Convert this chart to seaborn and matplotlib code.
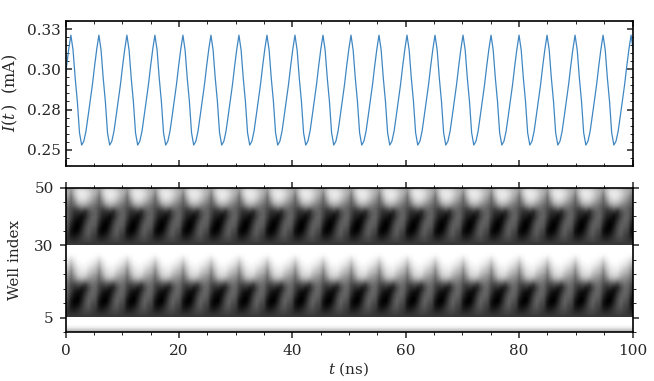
import matplotlib
matplotlib.use('Agg')
import matplotlib.pyplot as plt
from matplotlib.ticker import FixedLocator, MultipleLocator
import numpy as np
import pandas as pd
import seaborn as sns

# current trace, sampled every 0.38 ns, one row per oscillation
current_start = [0.2905, 0.3020, 0.3125]
current_rows = [
    [0.3212, 0.3120, 0.2945, 0.2800, 0.2605, 0.2529, 0.2553, 0.2615, 0.2710, 0.2810, 0.2905, 0.3020, 0.3125],
    [0.3212, 0.3120, 0.2945, 0.2800, 0.2605, 0.2529, 0.2553, 0.2615, 0.2710, 0.2810, 0.2905, 0.3020, 0.3125],
    [0.3212, 0.3120, 0.2945, 0.2800, 0.2605, 0.2529, 0.2553, 0.2615, 0.2710, 0.2810, 0.2905, 0.3020, 0.3125],
    [0.3212, 0.3120, 0.2945, 0.2800, 0.2605, 0.2529, 0.2553, 0.2615, 0.2710, 0.2810, 0.2905, 0.3020, 0.3125],
    [0.3212, 0.3120, 0.2945, 0.2800, 0.2605, 0.2529, 0.2553, 0.2615, 0.2710, 0.2810, 0.2905, 0.3020, 0.3125],
    [0.3212, 0.3120, 0.2945, 0.2800, 0.2605, 0.2529, 0.2553, 0.2615, 0.2710, 0.2810, 0.2905, 0.3020, 0.3125],
    [0.3212, 0.3120, 0.2945, 0.2800, 0.2605, 0.2529, 0.2553, 0.2615, 0.2710, 0.2810, 0.2905, 0.3020, 0.3125],
    [0.3212, 0.3120, 0.2945, 0.2800, 0.2605, 0.2529, 0.2553, 0.2615, 0.2710, 0.2810, 0.2905, 0.3020, 0.3125],
    [0.3212, 0.3120, 0.2945, 0.2800, 0.2605, 0.2529, 0.2553, 0.2615, 0.2710, 0.2810, 0.2905, 0.3020, 0.3125],
    [0.3212, 0.3120, 0.2945, 0.2800, 0.2605, 0.2529, 0.2553, 0.2615, 0.2710, 0.2810, 0.2905, 0.3020, 0.3125],
    [0.3212, 0.3120, 0.2945, 0.2800, 0.2605, 0.2529, 0.2553, 0.2615, 0.2710, 0.2810, 0.2905, 0.3020, 0.3125],
    [0.3212, 0.3120, 0.2945, 0.2800, 0.2605, 0.2529, 0.2553, 0.2615, 0.2710, 0.2810, 0.2905, 0.3020, 0.3125],
    [0.3212, 0.3120, 0.2945, 0.2800, 0.2605, 0.2529, 0.2553, 0.2615, 0.2710, 0.2810, 0.2905, 0.3020, 0.3125],
    [0.3212, 0.3120, 0.2945, 0.2800, 0.2605, 0.2529, 0.2553, 0.2615, 0.2710, 0.2810, 0.2905, 0.3020, 0.3125],
    [0.3212, 0.3120, 0.2945, 0.2800, 0.2605, 0.2529, 0.2553, 0.2615, 0.2710, 0.2810, 0.2905, 0.3020, 0.3125],
    [0.3212, 0.3120, 0.2945, 0.2800, 0.2605, 0.2529, 0.2553, 0.2615, 0.2710, 0.2810, 0.2905, 0.3020, 0.3125],
    [0.3212, 0.3120, 0.2945, 0.2800, 0.2605, 0.2529, 0.2553, 0.2615, 0.2710, 0.2810, 0.2905, 0.3020, 0.3125],
    [0.3212, 0.3120, 0.2945, 0.2800, 0.2605, 0.2529, 0.2553, 0.2615, 0.2710, 0.2810, 0.2905, 0.3020, 0.3125],
    [0.3212, 0.3120, 0.2945, 0.2800, 0.2605, 0.2529, 0.2553, 0.2615, 0.2710, 0.2810, 0.2905, 0.3020, 0.3125],
    [0.3212, 0.3120, 0.2945, 0.2800, 0.2605, 0.2529, 0.2553, 0.2615, 0.2710, 0.2810, 0.2905, 0.3020, 0.3125],
]
current_end = [0.3212, 0.3120]
sample_step = 0.38
sample_start = -0.19

# brightness by well over one oscillation (0 black, 1 white), top well first
well_period = 4.94
n_periods = 21

upper_band = [  # wells 49 to 30
    [.62, .58, .70, .78, .80, .78, .74, .68],
    [.68, .58, .76, .88, .90, .88, .82, .74],
    [.66, .52, .74, .88, .92, .90, .84, .74],
    [.60, .46, .68, .84, .90, .88, .80, .70],
    [.54, .42, .60, .78, .84, .82, .74, .64],
    [.48, .38, .50, .68, .74, .72, .64, .56],
    [.42, .34, .40, .52, .60, .58, .52, .48],
    [.38, .30, .28, .34, .40, .36, .40, .42],
    [.38, .28, .20, .20, .22, .18, .30, .38],
    [.38, .26, .16, .14, .10, .14, .28, .36],
    [.38, .24, .12, .08, .05, .14, .28, .38],
    [.36, .20, .08, .03, .05, .18, .32, .38],
    [.34, .16, .04, .01, .07, .22, .35, .38],
    [.32, .12, .02, .00, .10, .26, .36, .36],
    [.28, .08, .01, .02, .14, .28, .37, .33],
    [.25, .07, .02, .06, .17, .30, .36, .30],
    [.22, .09, .07, .11, .20, .30, .34, .27],
    [.21, .13, .12, .16, .22, .28, .30, .25],
    [.21, .18, .17, .20, .23, .26, .27, .24],
    [.22, .22, .22, .22, .22, .22, .22, .22],
]
middle_band = [  # wells 29 to 5
    [1.0, 1.0, 1.0, 1.0, 1.0, 1.0, 1.0, 1.0],
    [1.0, 1.0, 1.0, 1.0, 1.0, 1.0, 1.0, 1.0],
    [1.0, 1.0, 1.0, 1.0, 1.0, 1.0, 1.0, 1.0],
    [.99, .97, .99, 1.0, 1.0, 1.0, 1.0, 1.0],
    [.95, .90, .96, 1.0, 1.0, 1.0, 1.0, .98],
    [.90, .82, .92, .98, 1.0, 1.0, .98, .95],
    [.85, .74, .86, .96, .98, .98, .95, .91],
    [.78, .66, .82, .92, .95, .95, .90, .85],
    [.72, .58, .76, .88, .92, .92, .85, .78],
    [.66, .52, .70, .84, .88, .87, .78, .72],
    [.58, .46, .62, .78, .82, .80, .70, .64],
    [.52, .40, .52, .66, .70, .66, .60, .56],
    [.46, .36, .40, .48, .50, .46, .48, .50],
    [.42, .30, .28, .32, .30, .26, .36, .44],
    [.40, .26, .20, .20, .14, .16, .30, .40],
    [.38, .24, .14, .10, .07, .16, .30, .40],
    [.36, .20, .08, .04, .06, .20, .34, .40],
    [.34, .16, .05, .02, .08, .24, .36, .39],
    [.31, .11, .02, .00, .11, .27, .38, .36],
    [.28, .08, .01, .02, .14, .29, .38, .33],
    [.25, .08, .03, .07, .18, .30, .36, .29],
    [.23, .10, .08, .12, .21, .30, .33, .27],
    [.21, .14, .13, .17, .23, .28, .29, .25],
    [.21, .18, .18, .20, .23, .26, .26, .23],
    [.22, .22, .22, .22, .22, .22, .22, .22],
]
lower_band = [  # wells 4 to 0
    [1.0, 1.0],
    [1.0, 1.0],
    [1.0, 1.0],
    [.93, .93],
    [.75, .75],
]
band_limits = [(30, 50), (5, 30), (0, 5)]

current_ticks = [0.25, 0.275, 0.30, 0.325]
current_labels = ['0.25', '0.28', '0.30', '0.33']
well_ticks = [5, 30, 50]
time_ticks = [0, 20, 40, 60, 80, 100]

sns.set_style('white')
plt.rcParams['font.family'] = 'DejaVu Serif'
plt.rcParams['mathtext.fontset'] = 'dejavuserif'
plt.rcParams['font.size'] = 11

current = current_start + [v for row in current_rows for v in row] + current_end
trace = pd.DataFrame({
    't': sample_start + sample_step * np.arange(len(current)),
    'I': current,
})

fig = plt.figure(figsize=(6.54, 3.81), dpi=100)
ax_top = fig.add_axes([65.5 / 654, 1 - 165.5 / 381, 567 / 654, 144.5 / 381])
ax_bot = fig.add_axes([65.5 / 654, 1 - 332 / 381, 567 / 654, 144.5 / 381])

sns.lineplot(data=trace, x='t', y='I', ax=ax_top, color='#3f87c2', linewidth=0.9,
             errorbar=None, estimator=None, sort=False)
ax_top.set_xlim(0, 100)
ax_top.set_ylim(0.2402, 0.33)
ax_top.set_yticks(current_ticks)
ax_top.set_yticklabels(current_labels)
ax_top.yaxis.set_minor_locator(MultipleLocator(0.005))
ax_top.set_xticks(time_ticks)
ax_top.set_xticklabels([])
ax_top.xaxis.set_minor_locator(MultipleLocator(5))
ax_top.set_xlabel('')
ax_top.set_ylabel(r'$I(t\,)$  (mA)', fontsize=11.5, labelpad=5)
ax_top.tick_params(which='major', direction='in', length=4.5, width=1.1,
                   top=True, right=True, bottom=True, left=True, labelsize=11)
ax_top.tick_params(which='minor', direction='in', length=2.5, width=0.7,
                   top=True, right=True, bottom=True, left=True)

for band, (low, high) in zip([upper_band, middle_band, lower_band], band_limits):
    cells = np.tile(np.array(band), (1, n_periods))
    ax_bot.imshow(cells, cmap='gray', vmin=0, vmax=1, aspect='auto',
                  interpolation='bilinear',
                  extent=(0, well_period * n_periods, low, high))
ax_bot.set_xlim(0, 100)
ax_bot.set_ylim(0, 50)
ax_bot.set_yticks(well_ticks)
ax_bot.yaxis.set_minor_locator(FixedLocator(np.arange(0, 51, 5)))
ax_bot.set_xticks(time_ticks)
ax_bot.xaxis.set_minor_locator(MultipleLocator(5))
ax_bot.set_xlabel(r'$t$ (ns)', fontsize=11, labelpad=2)
ax_bot.set_ylabel('Well index', fontsize=11, labelpad=9)
ax_bot.tick_params(which='major', direction='out', length=4.5, width=1.1, pad=4,
                   top=True, right=True, bottom=True, left=True, labelsize=11)
ax_bot.tick_params(which='minor', direction='out', length=2.5, width=0.7,
                   top=True, right=True, bottom=True, left=True)

for ax in (ax_top, ax_bot):
    for spine in ax.spines.values():
        spine.set_visible(True)
        spine.set_color('black')
        spine.set_linewidth(1.2)

fig.savefig('out.png', dpi=100)
